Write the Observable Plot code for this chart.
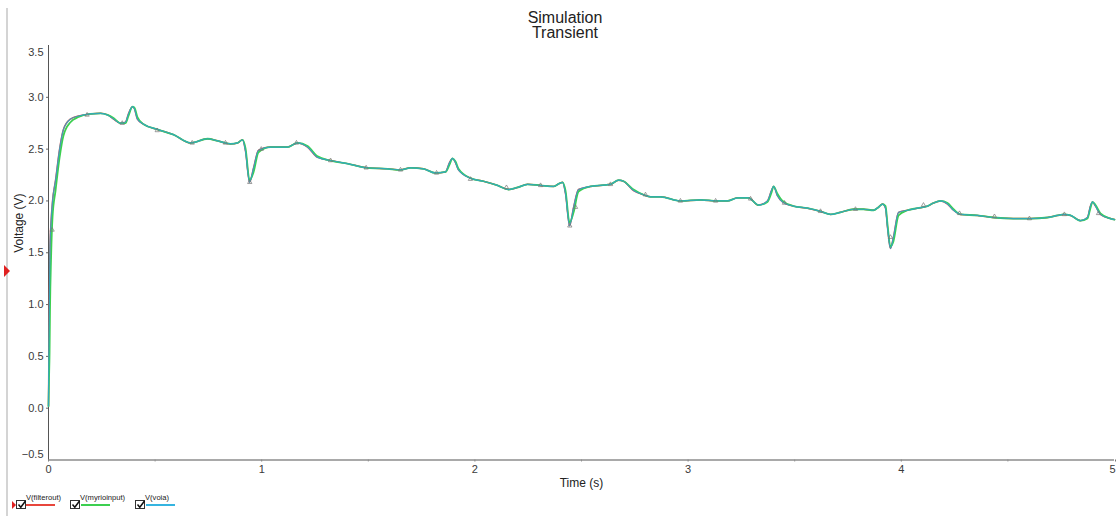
<!DOCTYPE html>
<html>
<head>
<meta charset="utf-8">
<script src="https://cdn.jsdelivr.net/npm/d3@7"></script>
<script src="https://cdn.jsdelivr.net/npm/@observablehq/plot@0.6"></script>
<style>
  html, body { margin: 0; padding: 0; background: #fff; }
  #wrap { position: relative; width: 1116px; height: 516px; overflow: hidden; background: #fff;
          font-family: Arial, "Liberation Sans", sans-serif; }
  #chart { position: absolute; left: 0; top: 0; }
  #title { position: absolute; left: 0; top: 10px; width: 1130px; text-align: center;
           font-size: 16px; line-height: 15px; color: #222; }
  #sidebar { position: absolute; left: 6px; top: 8px; width: 2px; height: 508px; background: #d4d4d4; }
  #redmark { position: absolute; left: 4px; top: 265px; width: 0; height: 0;
             border-top: 6px solid transparent; border-bottom: 6px solid transparent; border-left: 6px solid #e02020; }
  .leg { position: absolute; top: 493px; font-size: 7.6px; color: #222; white-space: nowrap; }
  .box { position: absolute; top: 500px; width: 8px; height: 7px; border: 1px solid #333; background: #fff; }
  .box svg { position: absolute; left: 0; top: -1px; }
  .ul { position: absolute; height: 1.5px; }
</style>
</head>
<body>
<div id="wrap">
  <div id="sidebar"></div>
  <div id="redmark"></div>
  <div id="title"></div>
  <div id="chart"></div>
  <div id="legend"></div>
</div>
<script>
// ---- data ----
const titleLines = ["Simulation", "Transient"];
const xLabel = "Time (s)";
const yLabel = "Voltage (V)";
const xTicks = [0, 1, 2, 3, 4, 5];
const xMinorTicks = [0.5, 1.5, 2.5, 3.5, 4.5];
const yTicks = [-0.5, 0, 0.5, 1, 1.5, 2, 2.5, 3, 3.5];
const seriesNames = ["V(filterout)", "V(myrioinput)", "V(voia)"];
const seriesColors = ["#e8463c", "#3ccf50", "#35b4e0"];

const time = [0, 0.002, 0.005, 0.007, 0.012, 0.019, 0.033, 0.052, 0.070, 0.103,
  0.141, 0.197, 0.244, 0.277, 0.305, 0.338, 0.361, 0.375, 0.394, 0.403,
  0.417, 0.446, 0.511, 0.586, 0.666, 0.746, 0.793, 0.854, 0.887, 0.910,
  0.924, 0.943, 0.962, 0.985, 1.041, 1.121, 1.168, 1.215, 1.262, 1.323,
  1.402, 1.496, 1.590, 1.651, 1.698, 1.759, 1.815, 1.862, 1.881, 1.895,
  1.909, 1.923, 1.979, 2.040, 2.106, 2.158, 2.200, 2.247, 2.308, 2.369,
  2.397, 2.411, 2.425, 2.444, 2.463, 2.486, 2.542, 2.636, 2.674, 2.697,
  2.744, 2.791, 2.824, 2.871, 2.964, 3.058, 3.138, 3.185, 3.232, 3.283,
  3.330, 3.372, 3.391, 3.401, 3.419, 3.443, 3.494, 3.560, 3.621, 3.668,
  3.715, 3.776, 3.823, 3.870, 3.893, 3.912, 3.926, 3.935, 3.949, 3.963,
  3.987, 4.029, 4.076, 4.123, 4.151, 4.184, 4.217, 4.245, 4.278, 4.357,
  4.433, 4.526, 4.606, 4.686, 4.733, 4.761, 4.794, 4.841, 4.873, 4.887,
  4.897, 4.911, 4.934, 4.981, 5.000];

const voia = [0.02, 0.6, 1.2, 1.55, 1.8, 2.0, 2.2, 2.5, 2.69, 2.79,
  2.82, 2.84, 2.845, 2.83, 2.79, 2.75, 2.76, 2.84, 2.91, 2.89,
  2.79, 2.74, 2.69, 2.64, 2.56, 2.60, 2.58, 2.55, 2.56, 2.59,
  2.48, 2.18, 2.32, 2.49, 2.52, 2.52, 2.56, 2.52, 2.42, 2.39,
  2.36, 2.32, 2.31, 2.30, 2.32, 2.31, 2.27, 2.28, 2.37, 2.41,
  2.37, 2.30, 2.22, 2.19, 2.15, 2.11, 2.13, 2.16, 2.15, 2.14,
  2.17, 2.18, 2.07, 1.76, 1.94, 2.11, 2.14, 2.16, 2.20, 2.19,
  2.10, 2.06, 2.04, 2.04, 2.00, 2.01, 2.00, 2.00, 2.03, 2.03,
  1.96, 2.00, 2.10, 2.14, 2.05, 1.99, 1.95, 1.93, 1.90, 1.87,
  1.89, 1.92, 1.92, 1.91, 1.94, 1.97, 1.93, 1.75, 1.54, 1.65,
  1.89, 1.91, 1.93, 1.95, 1.98, 2.00, 1.97, 1.91, 1.87, 1.86,
  1.84, 1.83, 1.83, 1.84, 1.86, 1.87, 1.86, 1.81, 1.84, 1.95,
  1.99, 1.95, 1.87, 1.83, 1.82];

const myrioinput = [0.02, 0.25, 0.55, 0.95, 1.45, 1.85, 2.1, 2.42, 2.63, 2.76,
  2.81, 2.84, 2.845, 2.83, 2.80, 2.75, 2.75, 2.82, 2.91, 2.90,
  2.81, 2.74, 2.69, 2.64, 2.56, 2.60, 2.58, 2.55, 2.56, 2.59,
  2.51, 2.20, 2.28, 2.47, 2.52, 2.52, 2.56, 2.53, 2.43, 2.39,
  2.36, 2.32, 2.31, 2.30, 2.32, 2.31, 2.27, 2.28, 2.35, 2.41,
  2.38, 2.31, 2.22, 2.19, 2.15, 2.11, 2.13, 2.16, 2.15, 2.14,
  2.17, 2.18, 2.10, 1.79, 1.89, 2.09, 2.14, 2.16, 2.20, 2.19,
  2.11, 2.06, 2.04, 2.04, 2.00, 2.01, 2.00, 2.00, 2.03, 2.03,
  1.96, 1.99, 2.08, 2.14, 2.07, 2.00, 1.95, 1.93, 1.90, 1.87,
  1.89, 1.92, 1.92, 1.91, 1.94, 1.97, 1.95, 1.78, 1.56, 1.61,
  1.86, 1.91, 1.93, 1.95, 1.98, 2.00, 1.98, 1.92, 1.87, 1.86,
  1.84, 1.83, 1.83, 1.84, 1.86, 1.87, 1.86, 1.81, 1.83, 1.93,
  1.99, 1.96, 1.88, 1.83, 1.82];

const filterout = [0.02, 0.6, 1.2, 1.55, 1.8, 2.0, 2.2, 2.5, 2.69, 2.79,
  2.82, 2.84, 2.845, 2.83, 2.79, 2.75, 2.76, 2.84, 2.91, 2.89,
  2.79, 2.74, 2.69, 2.64, 2.56, 2.60, 2.58, 2.55, 2.56, 2.59,
  2.48, 2.18, 2.32, 2.49, 2.52, 2.52, 2.56, 2.52, 2.42, 2.39,
  2.36, 2.32, 2.31, 2.30, 2.32, 2.31, 2.27, 2.28, 2.37, 2.41,
  2.37, 2.30, 2.22, 2.19, 2.15, 2.11, 2.13, 2.16, 2.15, 2.14,
  2.17, 2.18, 2.07, 1.76, 1.94, 2.11, 2.14, 2.16, 2.20, 2.19,
  2.10, 2.06, 2.04, 2.04, 2.00, 2.01, 2.00, 2.00, 2.03, 2.03,
  1.96, 2.00, 2.10, 2.14, 2.05, 1.99, 1.95, 1.93, 1.90, 1.87,
  1.89, 1.92, 1.92, 1.91, 1.94, 1.97, 1.93, 1.75, 1.54, 1.65,
  1.89, 1.91, 1.93, 1.95, 1.98, 2.00, 1.97, 1.91, 1.87, 1.86,
  1.84, 1.83, 1.83, 1.84, 1.86, 1.87, 1.86, 1.81, 1.84, 1.95,
  1.99, 1.95, 1.87, 1.83, 1.82];

// small triangle data markers seen on the trace
const markerTime = [0.017, 0.181, 0.346, 0.510, 0.674, 0.830, 0.944, 0.998, 1.163, 1.323,
  1.490, 1.651, 1.820, 1.979, 2.148, 2.308, 2.445, 2.472, 2.636, 2.800,
  2.964, 3.129, 3.293, 3.452, 3.621, 3.785, 3.949, 4.104, 4.273, 4.437,
  4.601, 4.765, 4.925];
const markerValue = [1.72, 2.83, 2.75, 2.68, 2.56, 2.56, 2.18, 2.50, 2.56, 2.39,
  2.32, 2.30, 2.27, 2.21, 2.13, 2.15, 1.76, 1.94, 2.16, 2.06,
  2.00, 2.00, 2.02, 1.98, 1.90, 1.92, 1.65, 1.96, 1.88, 1.85,
  1.83, 1.87, 1.88];

// ---- build ----
const allSeries = [filterout, myrioinput, voia];
const rowsFor = (vals) => time.map((t, i) => ({t, v: vals[i]}));
const markers = markerTime.map((t, i) => ({t, v: markerValue[i]}));
const yInner = yTicks.filter(d => d > yTicks[0] && d < yTicks[yTicks.length - 1]);
const xLast = xTicks[xTicks.length - 1];

document.getElementById("title").innerHTML = titleLines.join("<br>");

const chart = Plot.plot({
  width: 1116,
  height: 516,
  marginLeft: 48,
  marginRight: 2,
  marginTop: 45,
  marginBottom: 56.5,
  x: {domain: [xTicks[0], xLast]},
  y: {domain: [yTicks[0], yTicks[yTicks.length - 1]]},
  style: {fontFamily: "Arial, 'Liberation Sans', sans-serif", fontSize: "11px", color: "#3a3a3a", background: "transparent", overflow: "visible"},
  marks: [
    Plot.axisX(xTicks.filter(d => d < xLast), {tickSize: 2, tickPadding: 3, tickFormat: d3.format("d"), label: null, stroke: "#777"}),
    Plot.axisX([xLast], {tickSize: 2, tickPadding: 3, tickFormat: d3.format("d"), label: null, stroke: "#777", textAnchor: "end", dx: 1}),
    Plot.axisX(xMinorTicks, {tickSize: 2, tickFormat: () => "", label: null, stroke: "#999"}),
    Plot.axisY(yInner, {tickSize: 2, tickPadding: 3, tickFormat: d3.format(".1f"), label: null, stroke: "#666"}),
    Plot.axisY([yTicks[yTicks.length - 1]], {tickSize: 2, tickPadding: 3, tickFormat: d3.format(".1f"), label: null, dy: 7, stroke: "none"}),
    Plot.axisY([yTicks[0]], {tickSize: 2, tickPadding: 3, tickFormat: d3.format(".1f"), label: null, dy: -6, stroke: "none"}),
    Plot.ruleY([yTicks[0]], {stroke: "#8c8c8c", strokeWidth: 1.5}),
    Plot.ruleX([xTicks[0]], {y1: yTicks[0], y2: yTicks[yTicks.length - 1], stroke: "#555", strokeWidth: 1}),
    Plot.text([xLabel], {frameAnchor: "bottom", dy: 27, fontSize: 12, fill: "#222"}),
    Plot.text([yLabel], {frameAnchor: "left", dx: -29, rotate: -90, fontSize: 12, fill: "#222"}),
    Plot.line(rowsFor(allSeries[0]), {x: "t", y: "v", stroke: seriesColors[0], strokeWidth: 1.5, curve: "monotone-x"}),
    Plot.line(rowsFor(allSeries[1]), {x: "t", y: "v", stroke: seriesColors[1], strokeWidth: 1.8, curve: "monotone-x"}),
    Plot.line(rowsFor(allSeries[2]), {x: "t", y: "v", stroke: seriesColors[2], strokeWidth: 1.2, strokeOpacity: 0.85, curve: "monotone-x"}),
    Plot.line(rowsFor(allSeries[2]), {x: "t", y: "v", stroke: "#1f6f70", strokeWidth: 0.6, strokeOpacity: 0.35, curve: "monotone-x"}),
    Plot.dot(markers, {x: "t", y: "v", symbol: "triangle", r: 1.6, stroke: "#777", fill: "none", strokeWidth: 0.7})
  ]
});
document.getElementById("chart").appendChild(chart);

// ---- legend (below the plot) ----
const legend = document.getElementById("legend");
const legPos = [
  {box: 16, text: 26, ul: [26, 55]},
  {box: 70, text: 80, ul: [81, 110]},
  {box: 135, text: 145, ul: [146, 175]}
];
const redTick = document.createElement("div");
redTick.style.cssText = "position:absolute;left:12px;top:501px;width:0;height:0;border-top:4px solid transparent;border-bottom:4px solid transparent;border-left:4px solid #e02020;";
legend.appendChild(redTick);
seriesNames.forEach((name, i) => {
  const p = legPos[i];
  const box = document.createElement("div");
  box.className = "box";
  box.style.left = p.box + "px";
  box.innerHTML = '<svg width="10" height="9"><path d="M1.5 4.5 L3.8 7.2 L8.5 1" fill="none" stroke="#111" stroke-width="1.5"/></svg>';
  legend.appendChild(box);
  const t = document.createElement("div");
  t.className = "leg";
  t.style.left = p.text + "px";
  t.textContent = name;
  legend.appendChild(t);
  const u = document.createElement("div");
  u.className = "ul";
  u.style.left = p.ul[0] + "px";
  u.style.width = (p.ul[1] - p.ul[0]) + "px";
  u.style.top = "504px";
  u.style.background = seriesColors[i];
  legend.appendChild(u);
});
</script>
</body>
</html>
